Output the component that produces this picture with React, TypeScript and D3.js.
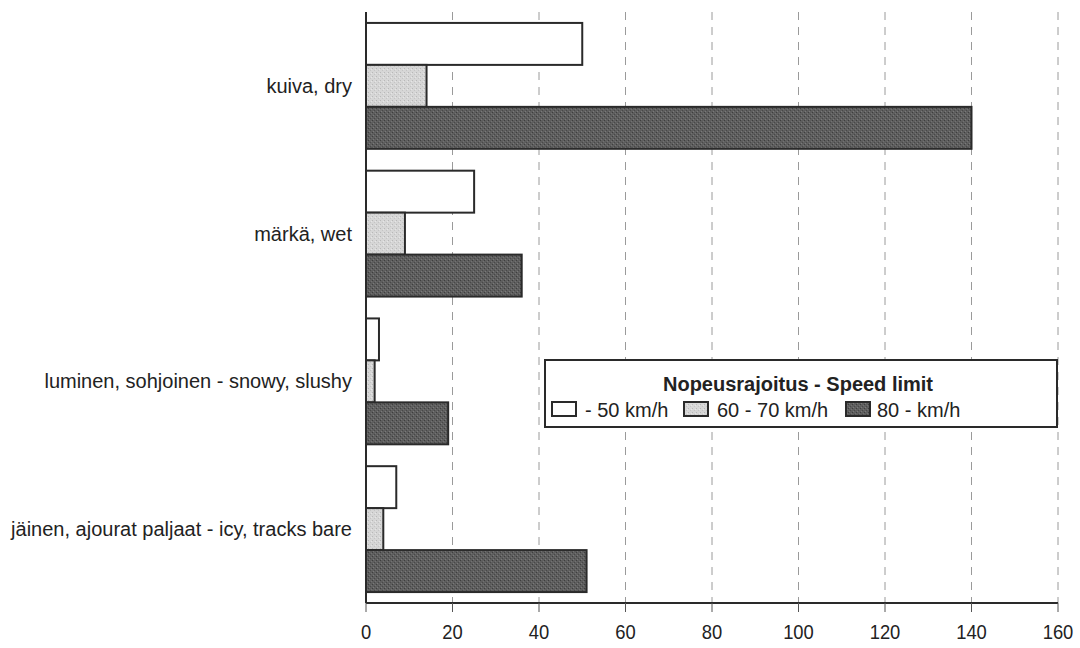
import React from "react";
import * as d3 from "d3";

const categories = [
  "kuiva, dry",
  "märkä, wet",
  "luminen, sohjoinen - snowy, slushy",
  "jäinen, ajourat paljaat - icy, tracks bare",
];
const seriesNames = ["- 50 km/h", "60 - 70 km/h", "80 - km/h"];
const speed50 = [50, 25, 3, 7];
const speed60_70 = [14, 9, 2, 4];
const speed80 = [140, 36, 19, 51];
const xTicks = [0, 20, 40, 60, 80, 100, 120, 140, 160];
const legendTitle = "Nopeusrajoitus - Speed limit";

const seriesValues = [speed50, speed60_70, speed80];
const fills = ["#ffffff", "url(#patLight)", "url(#patDark)"];

export default function App() {
  const W = 1080, H = 648;
  const x0 = 366, x1 = 1058, yTop = 12, yBot = 603;
  const x = d3.scaleLinear().domain([0, 160]).range([x0, x1]);
  const y = d3.scaleBand<string>().domain(categories).range([yTop, yBot]).paddingInner(0.148).paddingOuter(0.074);
  const ys = d3.scaleBand<number>().domain([0, 1, 2]).range([0, y.bandwidth()]);
  const labFont = "'Liberation Sans', Arial, sans-serif";

  const legX = 545, legY = 360, legW = 512, legH = 67;
  const legItems = [
    { sx: 552, tx: 585 },
    { sx: 684, tx: 717 },
    { sx: 846, tx: 877 },
  ];

  return (
    <svg width={W} height={H} style={{ position: "absolute", left: 0, top: 0, background: "#fff" }}>
      <defs>
        <pattern id="patLight" width="4" height="4" patternUnits="userSpaceOnUse">
          <rect width="4" height="4" fill="#d6d6d6" />
          <rect x="0" y="0" width="1" height="1" fill="#b8b8b8" />
          <rect x="2" y="2" width="1" height="1" fill="#c4c4c4" />
          <rect x="3" y="1" width="1" height="1" fill="#e6e6e6" />
        </pattern>
        <pattern id="patDark" width="4" height="4" patternUnits="userSpaceOnUse">
          <rect width="4" height="4" fill="#5e5e5e" />
          <rect x="0" y="0" width="1" height="1" fill="#3e3e3e" />
          <rect x="2" y="2" width="1" height="1" fill="#484848" />
          <rect x="1" y="3" width="1" height="1" fill="#7a7a7a" />
          <rect x="3" y="1" width="1" height="1" fill="#727272" />
        </pattern>
      </defs>

      {/* gridlines */}
      {xTicks.filter((t) => t > 0).map((t) => (
        <line key={"g" + t} x1={x(t)} x2={x(t)} y1={yTop} y2={yBot}
          stroke="#9a9a9a" strokeWidth={1} strokeDasharray="8,7" />
      ))}

      {/* bars */}
      {categories.map((c, ci) => (
        <g key={c}>
          {seriesValues.map((vals, si) => (
            <rect key={si}
              x={x(0)} y={(y(c) as number) + (ys(si) as number)}
              width={x(vals[ci]) - x(0)} height={ys.bandwidth()}
              fill={fills[si]} stroke="#2a2a2a" strokeWidth={2} />
          ))}
        </g>
      ))}

      {/* axes */}
      <line x1={x0} x2={x0} y1={yTop} y2={yBot} stroke="#2a2a2a" strokeWidth={2} />
      <line x1={x0} x2={x1} y1={yBot} y2={yBot} stroke="#2a2a2a" strokeWidth={2} />
      {xTicks.map((t) => (
        <g key={"t" + t}>
          <line x1={x(t)} x2={x(t)} y1={yBot} y2={yBot + 9} stroke="#555" strokeWidth={1} />
          <text x={x(t)} y={639} textAnchor="middle" fontFamily={labFont} fontSize={20}
            fill="#222" transform={`translate(${x(t)},0) scale(0.92,1) translate(${-x(t)},0)`}>{t}</text>
        </g>
      ))}

      {/* category labels */}
      {categories.map((c) => (
        <text key={"l" + c} x={352} y={(y(c) as number) + y.bandwidth() / 2 + 7}
          textAnchor="end" fontFamily={labFont} fontSize={20} fill="#222">{c}</text>
      ))}

      {/* legend */}
      <rect x={legX} y={legY} width={legW} height={legH} fill="#fff" stroke="#2a2a2a" strokeWidth={2} />
      <text x={798} y={391} textAnchor="middle" fontFamily={labFont} fontWeight="bold" fontSize={20} fill="#222">{legendTitle}</text>
      {seriesNames.map((n, i) => (
        <g key={n}>
          <rect x={legItems[i].sx} y={402} width={24} height={14} fill={fills[i]} stroke="#2a2a2a" strokeWidth={2} />
          <text x={legItems[i].tx} y={417} fontFamily={labFont} fontSize={20} fill="#222">{n}</text>
        </g>
      ))}
    </svg>
  );
}
